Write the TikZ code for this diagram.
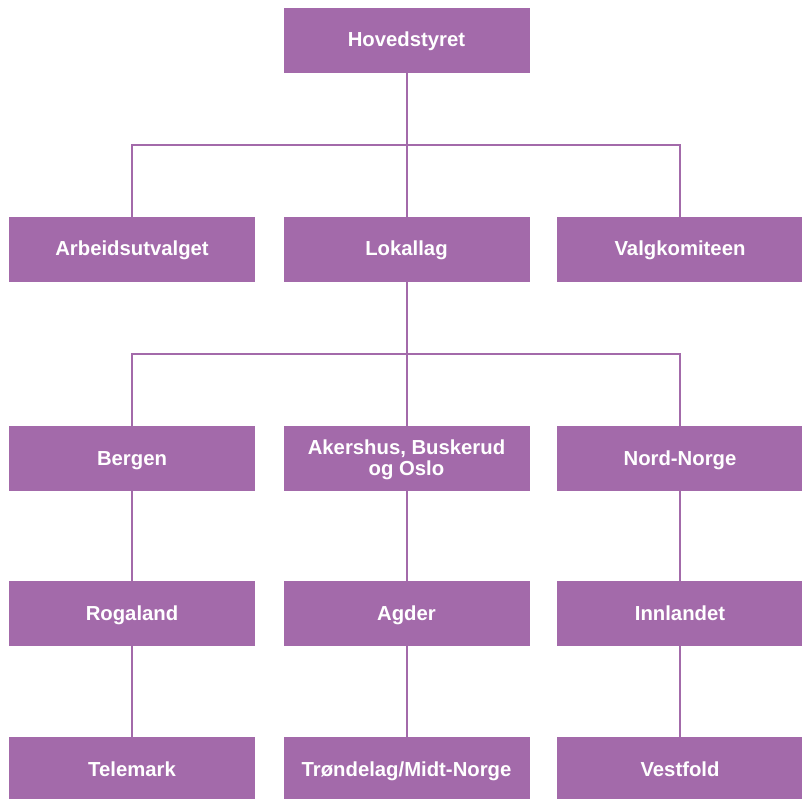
\documentclass[tikz,border=0pt]{standalone}
\usepackage{fontspec}
\setmainfont{Liberation Sans}
\definecolor{lilla}{HTML}{A36AAA}

\begin{document}
\begin{tikzpicture}[x=1pt, y=-1pt]
\tikzset{box/.style={fill=lilla, draw=none, minimum width=246pt, minimum height=65pt,
        inner sep=0pt, text=white, align=center, text height=14pt, text depth=1pt,
        font=\fontsize{20.3}{21}\selectfont\bfseries},
    link/.style={draw=lilla, line width=2pt}}
    \useasboundingbox (0, 0) rectangle (802, 799);

    % toppen
    \node[box] (hoved) at (406.5, 40.5) {Hovedstyret};

    % andre rad
    \node[box] (au) at (132, 249.5) {Arbeidsutvalget};
    \node[box] (lokallag) at (406.5, 249.5) {Lokallag};
    \node[box] (valg) at (680, 249.5) {Valgkomiteen};

    % lokallagene
    \node[box] (bergen) at (132, 458.5) {Bergen};
    \node[box, text height=35pt] (akershus) at (406.5, 458.5) {Akershus, Buskerud\\og Oslo};
    \node[box] (nord) at (680, 458.5) {Nord-Norge};
    \node[box] (rogaland) at (132, 613.5) {Rogaland};
    \node[box] (agder) at (406.5, 613.5) {Agder};
    \node[box] (innlandet) at (680, 613.5) {Innlandet};
    \node[box] (telemark) at (132, 769.5) {Telemark};
    \node[box] (trondelag) at (406.5, 769.5) {Trøndelag/Midt-Norge};
    \node[box] (vestfold) at (680, 769.5) {Vestfold};

    \coordinate (k1) at (406.5, 145);
    \coordinate (k2) at (406.5, 354);

    \draw[link] (hoved.south) -- (lokallag.north);
    \draw[link] (au.north) |- (k1) -| (valg.north);
    \draw[link] (lokallag.south) -- (akershus.north);
    \draw[link] (bergen.north) |- (k2) -| (nord.north);

    \draw[link] (bergen) -- (rogaland) (rogaland) -- (telemark);
    \draw[link] (akershus) -- (agder) (agder) -- (trondelag);
    \draw[link] (nord) -- (innlandet) (innlandet) -- (vestfold);
\end{tikzpicture}
\end{document}
